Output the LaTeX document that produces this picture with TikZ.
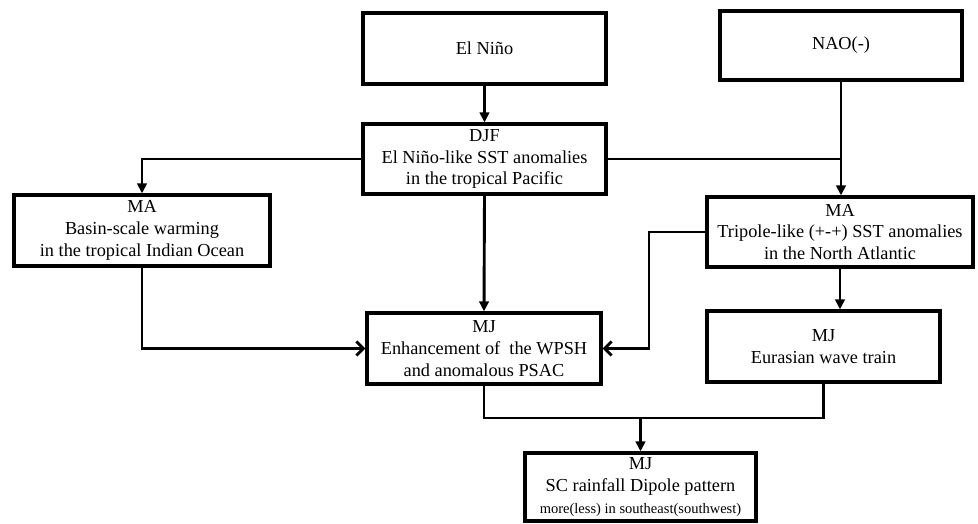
\documentclass[tikz,border=0pt]{standalone}
\usepackage{fontspec}
\setmainfont{Liberation Serif}
\usetikzlibrary{arrows.meta}
\begin{document}
\begin{tikzpicture}[x=1pt,y=-1pt,
  box/.style={draw,line width=3.2pt,rectangle,align=center,inner sep=0pt,
    font=\fontsize{18.3}{21.8}\selectfont},
  link/.style={line width=2.9pt},
  varr/.style={link,-{Triangle[length=10pt,width=9.5pt]}},
  harr/.style={link,-{Straight Barb[length=7pt,width=14pt,line width=2.9pt]}}]
\useasboundingbox (0,0) rectangle (978,523);
\node[box,minimum width=243pt,minimum height=71pt] (elnino) at (484.5,48.5) {El Niño};
\node[box,minimum width=242pt,minimum height=69pt] (nao) at (841,45.5) {NAO(-)};
\node[box,minimum width=243pt,minimum height=70pt] (djf) at (484.5,159) {DJF\\El Niño-like SST anomalies\\in the tropical Pacific};
\node[box,minimum width=256pt,minimum height=71pt] (maL) at (142,230.5) {MA\\Basin-scale warming\\in the tropical Indian Ocean};
\node[box,minimum width=266pt,minimum height=70pt] (maR) at (840,232) {MA\\Tripole-like (+-+) SST anomalies\\in the North Atlantic};
\node[box,minimum width=234pt,minimum height=71pt] (wpsh) at (484,348.5) {MJ\\Enhancement of\ \ the WPSH\\and anomalous PSAC};
\node[box,minimum width=233pt,minimum height=71pt] (eur) at (823.5,346.5) {MJ\\Eurasian wave train};
\node[box,minimum width=231pt,minimum height=68pt] (sc) at (640.5,487) {MJ\\SC rainfall Dipole pattern\\{\fontsize{14.5}{17}\selectfont more(less) in southeast(southwest)}};
\coordinate (k1) at (649,232);
\coordinate (j) at (640.5,418);
\draw[varr] (elnino.south) -- (djf.north);
\draw[varr] (djf.west) -| (maL.north);
\draw[varr] (nao.south) -- (nao.south |- maR.north);
\draw[link] (djf.east) -- (djf.east -| nao.south);
\draw[varr] (djf.south) -- (wpsh.north);
\draw[harr] (maL.south) |- (wpsh.west);
\draw[harr] (maR.west) -- (k1) |- (wpsh.east);
\draw[varr] (maR.south) -- (maR.south |- eur.north);
\draw[link] (wpsh.south) |- (j) -| (eur.south);
\draw[varr] (j) -- (sc.north);
\end{tikzpicture}
\end{document}
